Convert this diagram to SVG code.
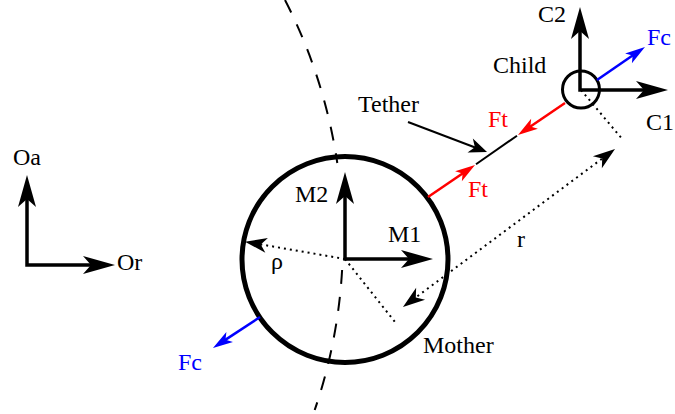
<svg xmlns="http://www.w3.org/2000/svg" width="675" height="414" viewBox="0 0 675 414">
<style>
text{font-size:24px;fill:#000}
.red{fill:#ff0000}
.blue{fill:#0000ff}
.axis{fill:none;stroke:#000;stroke-width:3.5;stroke-linejoin:miter}
.dot{fill:none;stroke:#000;stroke-width:2;stroke-dasharray:2 4}
.dash{fill:none;stroke:#000;stroke-width:2;stroke-dasharray:14 13}
.ft{fill:none;stroke:#ff0000;stroke-width:2.5}
.fc{fill:none;stroke:#0000ff;stroke-width:2.5}
</style>
<defs>
<marker id="big" markerUnits="userSpaceOnUse" orient="auto-start-reverse" refX="12" refY="0" markerWidth="40" markerHeight="40" viewBox="-5 -20 40 40" overflow="visible"><path d="M32,0 L0,-9 L8,0 L0,9 Z" fill="#000"/></marker>
<marker id="med" markerUnits="userSpaceOnUse" orient="auto-start-reverse" refX="6" refY="0" markerWidth="30" markerHeight="30" viewBox="-5 -15 30 30" overflow="visible"><path d="M18,0 L0,-7.5 L5,0 L0,7.5 Z" fill="#000"/></marker>
<marker id="dotarr" markerUnits="userSpaceOnUse" orient="auto-start-reverse" refX="10" refY="0" markerWidth="30" markerHeight="30" viewBox="-5 -15 30 30" overflow="visible"><path d="M22,0 L0,-7.5 L6,0 L0,7.5 Z" fill="#000"/></marker>
<marker id="redarr" markerUnits="userSpaceOnUse" orient="auto" refX="8" refY="0" markerWidth="30" markerHeight="30" viewBox="-5 -15 30 30" overflow="visible"><path d="M20,0 L0,-6 L5,0 L0,6 Z" fill="#ff0000"/></marker>
<marker id="bluearr" markerUnits="userSpaceOnUse" orient="auto" refX="8" refY="0" markerWidth="30" markerHeight="30" viewBox="-5 -15 30 30" overflow="visible"><path d="M20,0 L0,-6 L5,0 L0,6 Z" fill="#0000ff"/></marker>
</defs>

<g font-family="'Liberation Serif', 'Times New Roman', 'DejaVu Serif', serif">

<g id="orbit">
<path class="dash" d="M285,0 A525,525 0 0 1 337.3,163"/>
<path class="dash" d="M342.1,270 A525,525 0 0 1 314.7,410"/>
</g>

<g id="mother">
<circle cx="345" cy="259.5" r="103" fill="none" stroke="#000" stroke-width="5"/>
<text x="423" y="353">Mother</text>
</g>

<g id="child">
<circle cx="581" cy="89.5" r="18.5" fill="none" stroke="#000" stroke-width="3"/>
<text x="493" y="73">Child</text>
</g>

<g id="frame-O">
<path class="axis" d="M27,195 L27,265 L95,265" marker-start="url(#big)" marker-end="url(#big)"/>
<text x="13" y="165">Oa</text>
<text x="117" y="270">Or</text>
</g>

<g id="frame-M">
<path class="axis" d="M345,192 L345,259 L413,259" marker-start="url(#big)" marker-end="url(#big)"/>
<text x="295" y="202">M2</text>
<text x="388" y="242">M1</text>
</g>

<g id="frame-C">
<path class="axis" d="M580,27 L580,90 L648,90" marker-start="url(#big)" marker-end="url(#big)"/>
<text x="538" y="22">C2</text>
<text x="646" y="130">C1</text>
</g>

<g id="connectors">
<line x1="476" y1="164.3" x2="517" y2="135.7" stroke="#000" stroke-width="2"/>
<line class="ft" x1="565" y1="103" x2="527.9" y2="128.3" marker-end="url(#redarr)"/>
<line class="ft" x1="428" y1="197" x2="465.1" y2="171.8" marker-end="url(#redarr)"/>
<line class="fc" x1="597" y1="80" x2="635.1" y2="53.8" marker-end="url(#bluearr)"/>
<line class="fc" x1="260" y1="317" x2="223" y2="341.4" marker-end="url(#bluearr)"/>
<line x1="408" y1="122" x2="475.8" y2="147.7" stroke="#000" stroke-width="2" marker-end="url(#med)"/>
<line class="dot" x1="345" y1="259" x2="256.8" y2="243.7" marker-end="url(#dotarr)"/>
<line class="dot" x1="345" y1="259" x2="395" y2="322"/>
<line class="dot" x1="581" y1="90" x2="623" y2="140"/>
<line class="dot" x1="412.6" y1="299.8" x2="605.4" y2="156.2" marker-start="url(#dotarr)" marker-end="url(#dotarr)"/>
</g>

<g id="labels">
<text x="358" y="112">Tether</text>
<text class="red" x="488" y="127">Ft</text>
<text class="red" x="468" y="197">Ft</text>
<text class="blue" x="647" y="45">Fc</text>
<text class="blue" x="178" y="370">Fc</text>
<text x="271" y="269">ρ</text>
<text x="517" y="247">r</text>
</g>

</g>
</svg>
